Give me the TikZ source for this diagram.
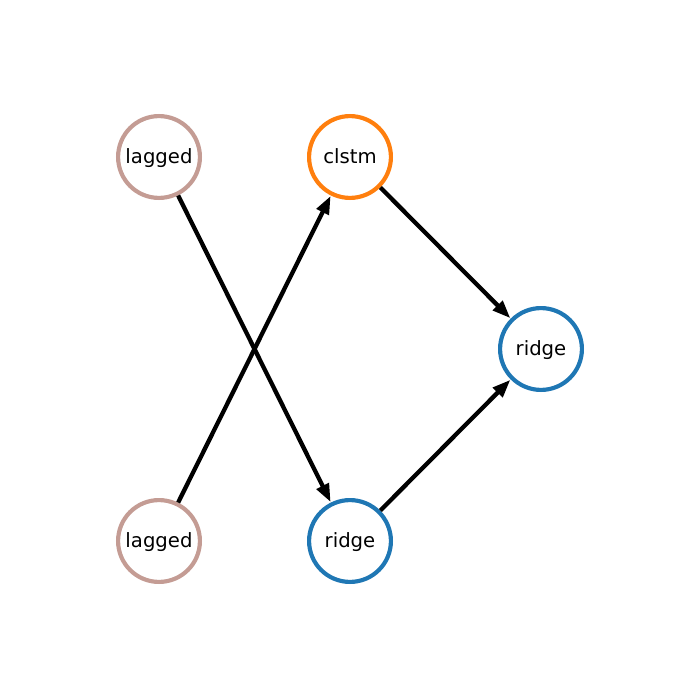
\documentclass[tikz,border=0pt]{standalone}
\usepackage{fontspec}
\setmainfont{DejaVu Sans}
\usetikzlibrary{arrows.meta}
\definecolor{lagc}{HTML}{C49C94}
\definecolor{clc}{HTML}{FF7F0E}
\definecolor{rdc}{HTML}{1F77B4}
\begin{document}
\begin{tikzpicture}[x=0.254mm,y=-0.254mm,
  vtx/.style={circle,draw,line width=3pt,fill=white,minimum size=86*0.254mm-3pt,inner sep=0pt,text height=0.95em,text depth=0pt,font=\fontsize{14.2}{16}\selectfont},
  edge/.style={line width=3.1pt,-{Triangle[length=4.6mm,width=3.3mm]},shorten >=0.3pt}]
\useasboundingbox (0,0) rectangle (700,700);
\node[vtx,draw=lagc] (l1) at (159,157) {lagged};
\node[vtx,draw=clc] (c) at (350,157) {clstm};
\node[vtx,draw=rdc] (r2) at (541,349) {ridge};
\node[vtx,draw=lagc] (l2) at (159,541) {lagged};
\node[vtx,draw=rdc] (r1) at (350,541) {ridge};
\draw[edge] (l1) -- (r1);
\draw[edge] (l2) -- (c);
\draw[edge] (c) -- (r2);
\draw[edge] (r1) -- (r2);
\end{tikzpicture}
\end{document}
